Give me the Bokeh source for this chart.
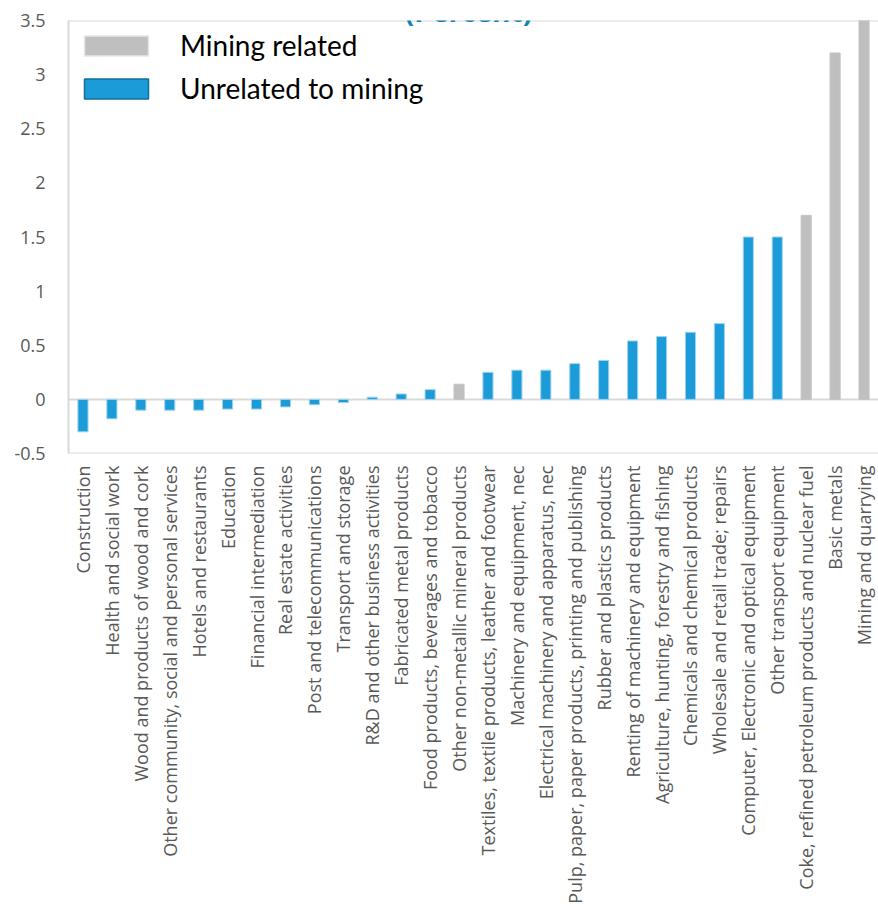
import math
from bokeh.plotting import figure
from bokeh.models import (ColumnDataSource, FactorRange, Range1d, Span, Label,
                          Legend, LegendItem)
from bokeh.embed import file_html
from bokeh.resources import INLINE

categories = [
    "Construction",
    "Health and social work",
    "Wood and products of wood and cork",
    "Other community, social and personal services",
    "Hotels and restaurants",
    "Education",
    "Financial intermediation",
    "Real estate activities",
    "Post and telecommunications",
    "Transport and storage",
    "R&D and other business activities",
    "Fabricated metal products",
    "Food products, beverages and tobacco",
    "Other non-metallic mineral products",
    "Textiles, textile products, leather and footwear",
    "Machinery and equipment, nec",
    "Electrical machinery and apparatus, nec",
    "Pulp, paper, paper products, printing and publishing",
    "Rubber and plastics products",
    "Renting of machinery and equipment",
    "Agriculture, hunting, forestry and fishing",
    "Chemicals and chemical products",
    "Wholesale and retail trade; repairs",
    "Computer, Electronic and optical equipment",
    "Other transport equipment",
    "Coke, refined petroleum products and nuclear fuel",
    "Basic metals",
    "Mining and quarrying",
]
values = [-0.30, -0.18, -0.10, -0.10, -0.10, -0.09, -0.09, -0.07, -0.05, -0.03,
          0.02, 0.05, 0.09, 0.14, 0.25, 0.27, 0.27, 0.33, 0.36, 0.54,
          0.58, 0.62, 0.70, 1.50, 1.50, 1.70, 3.20, 3.80]
mining_related = [False] * 13 + [True] + [False] * 11 + [True, True, True]

series_names = ["Mining related", "Unrelated to mining"]
title_text = "(Percent)"
y_ticks = [-0.5, 0, 0.5, 1, 1.5, 2, 2.5, 3, 3.5]
y_tick_labels = ["-0.5", "0", "0.5", "1", "1.5", "2", "2.5", "3", "3.5"]

mine_src = ColumnDataSource(dict(
    x=[c for c, m in zip(categories, mining_related) if m],
    top=[v for v, m in zip(values, mining_related) if m]))
other_src = ColumnDataSource(dict(
    x=[c for c, m in zip(categories, mining_related) if not m],
    top=[v for v, m in zip(values, mining_related) if not m]))

p = figure(width=878, height=912, output_backend="svg", toolbar_location=None,
           x_range=FactorRange(*categories, range_padding=0),
           y_range=Range1d(y_ticks[0], y_ticks[-1]),
           min_border_left=68, min_border_right=0, min_border_top=20,
           min_border_bottom=459)

p.background_fill_color = "white"
p.border_fill_color = "white"
p.outline_line_color = None
p.xgrid.visible = False
p.ygrid.visible = False

for loc in (0, y_ticks[0], y_ticks[-1]):
    p.add_layout(Span(location=loc, dimension="width", line_color="#d9d9d9",
                      line_width=2, level="underlay"))

p.vbar(x="x", top="top", bottom=0, width=0.35, source=mine_src,
       fill_color="#bfbfbf", line_color="#c4c4c4", line_width=1)
p.vbar(x="x", top="top", bottom=0, width=0.35, source=other_src,
       fill_color="#1b9bd7", line_color="#9fd3ef", line_width=1)

# legend patches: renderers with a single undefined (NaN) bar, never drawn
nan = float("nan")
leg_m = p.vbar(x=[categories[0]], top=[nan], bottom=[nan], width=0.35,
               fill_color="#bfbfbf", line_color="#e6e6e6", line_width=1.5)
leg_u = p.vbar(x=[categories[0]], top=[nan], bottom=[nan], width=0.35,
               fill_color="#1b9bd7", line_color="#116f9c", line_width=1.5)
legend = Legend(items=[LegendItem(label=series_names[0], renderers=[leg_m]),
                       LegendItem(label=series_names[1], renderers=[leg_u])],
                location="top_left")
legend.border_line_color = None
legend.background_fill_alpha = 0
legend.label_text_font = "Lato"
legend.label_text_font_size = "28px"
legend.label_text_color = "#000000"
legend.glyph_width = 80
legend.glyph_height = 25
legend.label_standoff = 24
legend.spacing = 9
legend.padding = 0
legend.margin = 8
legend.label_height = 20
p.add_layout(legend)

p.yaxis.ticker = y_ticks
p.yaxis.major_label_overrides = dict(zip(y_ticks, y_tick_labels))
p.yaxis.axis_line_color = "#d9d9d9"
p.yaxis.axis_line_width = 2
p.yaxis.major_tick_line_color = None
p.yaxis.minor_tick_line_color = None
p.yaxis.major_label_text_font = "Open Sans"
p.yaxis.major_label_text_font_size = "18px"
p.yaxis.major_label_text_color = "#595959"
p.yaxis.major_label_standoff = 17

p.xaxis.axis_line_color = None
p.xaxis.major_tick_line_color = None
p.xaxis.minor_tick_line_color = None
p.xaxis.major_label_orientation = math.pi / 2
p.xaxis.major_label_text_font = "Open Sans"
p.xaxis.major_label_text_font_size = "18px"
p.xaxis.major_label_text_color = "#595959"
p.xaxis.major_label_standoff = 6

title = Label(x=400, y=443, x_units="screen", y_units="screen",
              text=title_text, text_font="Open Sans", text_font_style="bold",
              text_font_size="28px", text_color="#1480b2", text_align="center",
              text_baseline="alphabetic", level="overlay")
p.add_layout(title)

open("out.html", "w").write(file_html(p, INLINE))
